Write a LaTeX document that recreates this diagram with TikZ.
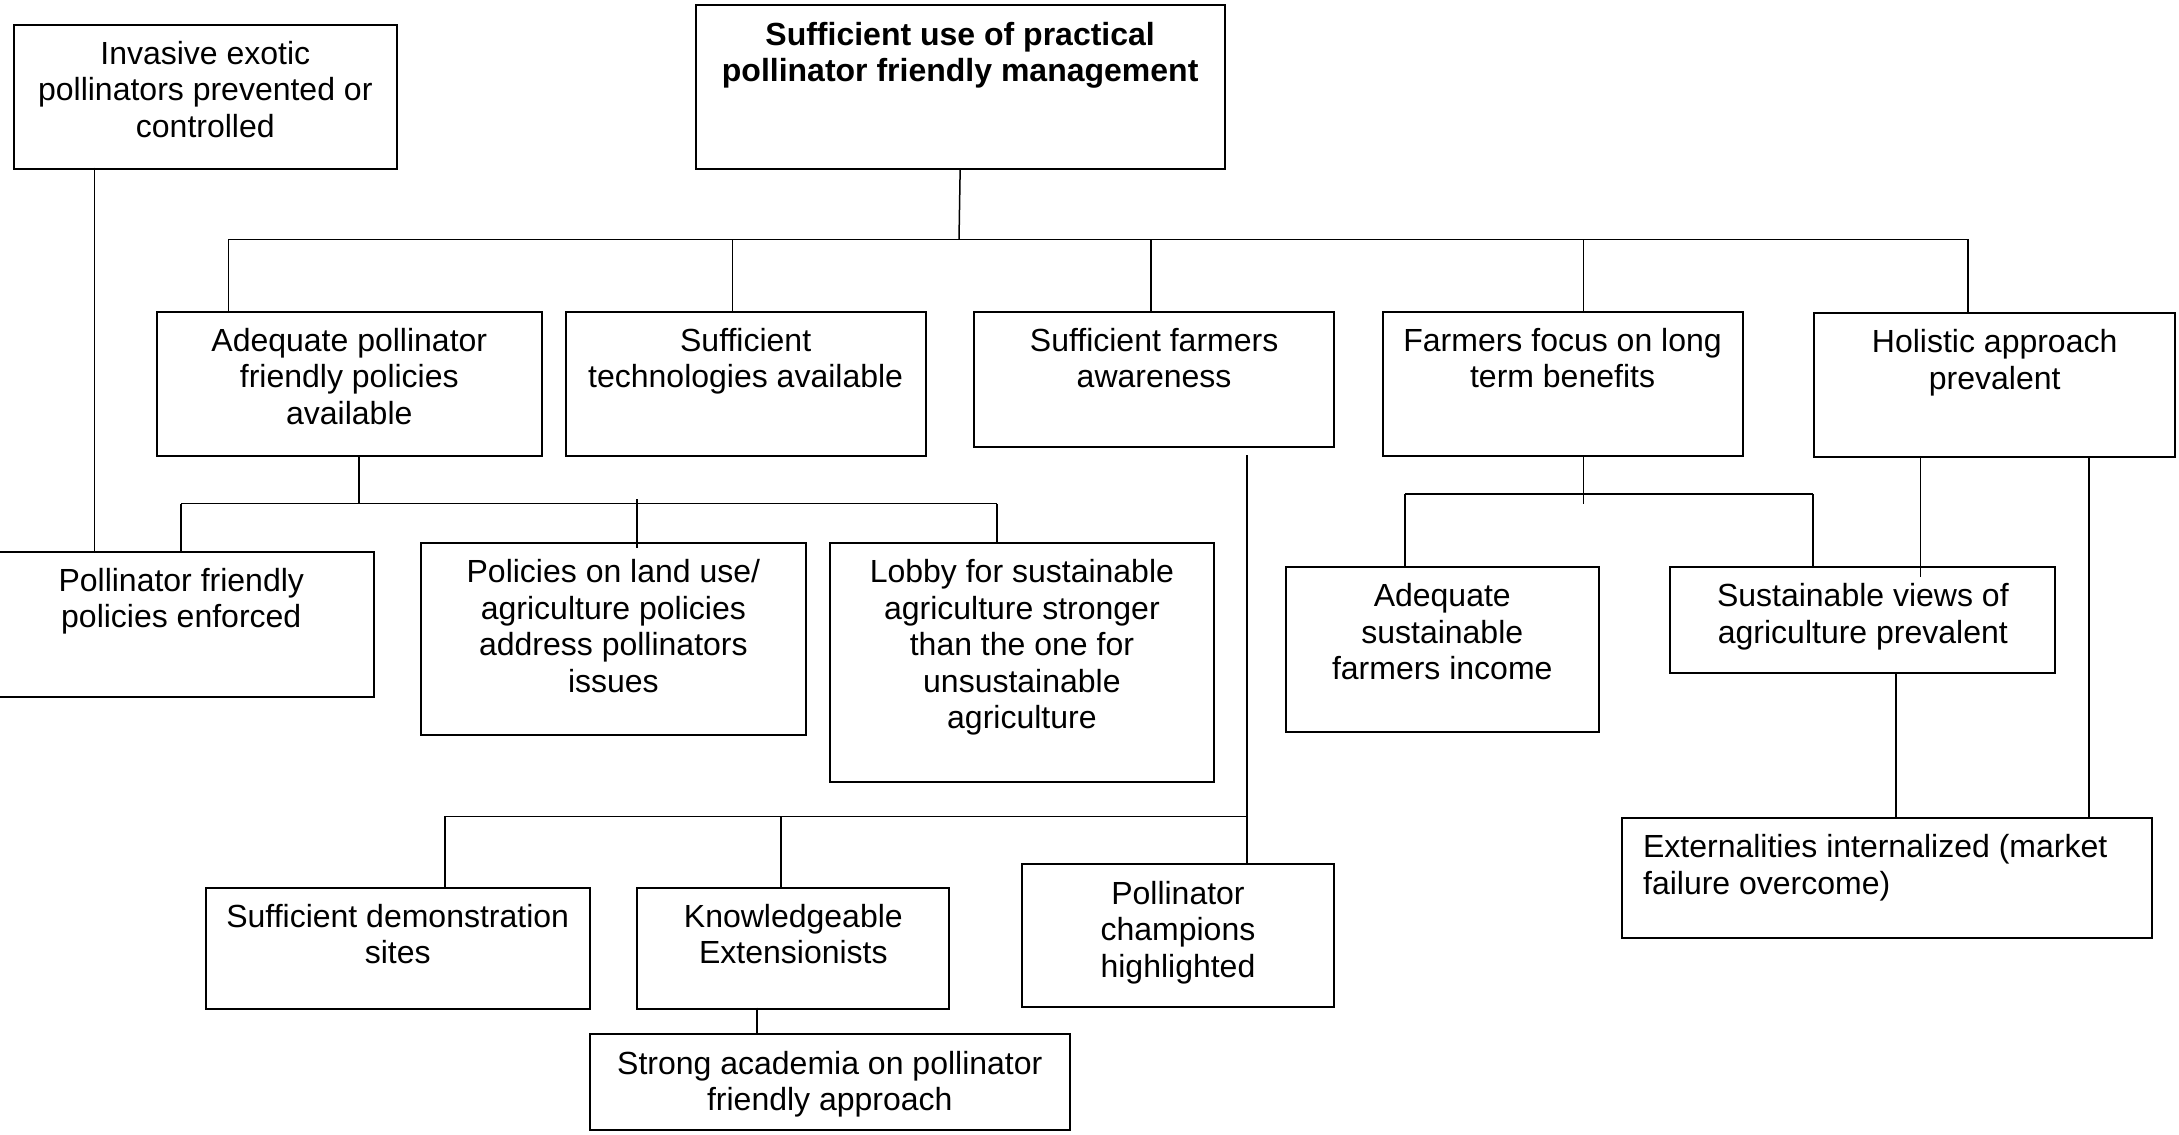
\documentclass[tikz,border=0pt]{standalone}
\usepackage{fontspec}
\setmainfont{Liberation Sans}
\tikzset{
  boxst/.style={draw, line width=2pt, inner sep=0pt, anchor=north west},
  txt/.style={anchor=north, align=center, inner sep=0pt, font=\fontsize{32}{36.5}\selectfont},
  con/.style={line width=1.5pt},
}
% name, x1, y1, x2, y2, text
\newcommand\mybox[6]{%
  \node[boxst, minimum width={(#4-(#2))*1pt}, minimum height={(#5-(#3))*1pt}] (#1) at (#2,#3) {};
  \node[txt] (#1t) at ([yshift=-15pt]#1.north) {\strut #6};
}
\begin{document}
\begin{tikzpicture}[x=1pt,y=-1pt]
\useasboundingbox[fill=white] (0,0) rectangle (2179,1135);

\mybox{inv}{12.6}{23.6}{396}{167.5}{Invasive exotic\\pollinators prevented or\\controlled}
\mybox{top}{694.5}{4.3}{1223.8}{167.9}{\bfseries Sufficient use of practical\\\bfseries pollinator friendly management}
\mybox{adq}{155.7}{310.7}{540.9}{455.4}{Adequate pollinator\\friendly policies\\available}
\mybox{tech}{564.7}{310.7}{924.6}{455.4}{Sufficient\\technologies available}
\mybox{awa}{973}{310.7}{1333.2}{446.4}{Sufficient farmers\\awareness}
\mybox{foc}{1381.6}{310.7}{1741.5}{455.4}{Farmers focus on long\\term benefits}
\mybox{hol}{1813}{311.8}{2174.4}{456.4}{Holistic approach\\prevalent}
\mybox{enf}{-12}{550.6}{372.5}{695.6}{Pollinator friendly\\policies enforced}
\mybox{pol}{420.2}{541.9}{804.6}{733.9}{Policies on land use/\\agriculture policies\\address pollinators\\issues}
\mybox{lob}{828.5}{541.9}{1213.3}{781.4}{Lobby for sustainable\\agriculture stronger\\than the one for\\unsustainable\\agriculture}
\mybox{inc}{1284.8}{565.8}{1597.7}{730.5}{Adequate\\sustainable\\farmers income}
\mybox{sus}{1669.3}{565.8}{2054.4}{672.1}{Sustainable views of\\agriculture prevalent}
\node[boxst, minimum width=529.6pt, minimum height=120.3pt] (ext) at (1620.9,817) {};
\node[txt, anchor=north west, align=left] (extt) at ([xshift=22pt,yshift=-15pt]ext.north west) {\strut Externalities internalized (market\\failure overcome)};
\mybox{dem}{204.8}{886.5}{588.6}{1007.5}{Sufficient demonstration\\sites}
\mybox{kno}{636.3}{886.5}{948.4}{1007.5}{Knowledgeable\\Extensionists}
\mybox{cha}{1020.7}{863.3}{1333.2}{1006}{Pollinator\\champions\\highlighted}
\mybox{aca}{588.6}{1033.4}{1069}{1129.4}{Strong academia on pollinator\\friendly approach}

% junction coordinates
\coordinate (j0) at (959,239.3);
\coordinate (j1) at (228.7,239.3);
\coordinate (j2) at (732.4,239.3);
\coordinate (j3) at (1150.9,239.3);
\coordinate (j4) at (1583.7,239.3);
\coordinate (j5) at (1968,239.3);
\coordinate (k0) at (359.2,503.6);
\coordinate (k1) at (181,503.6);
\coordinate (k2) at (637,499.3);
\coordinate (k2e) at (637,548.2);
\coordinate (k3) at (996.8,503.6);
\coordinate (i0) at (94.7,167.5);
\coordinate (a0) at (1247,455.4);
\coordinate (a1) at (1247,816.3);
\coordinate (m1) at (444.8,816.3);
\coordinate (m2) at (780.8,816.3);
\coordinate (f0) at (1583.7,504.3);
\coordinate (f1) at (1404.8,493.9);
\coordinate (f2) at (1813,493.9);
\coordinate (h1) at (1920.4,456.4);
\coordinate (h1e) at (1920.4,576.8);
\coordinate (h2) at (2088.8,456.4);
\coordinate (s0) at (1895.9,672.1);

\draw[con] (top.south) -- (j0);
\draw[con] (j1) -- (j5);
\draw[con] (j1) -- (j1 |- adq.north);
\draw[con] (j2) -- (j2 |- tech.north);
\draw[con] (j3) -- (j3 |- awa.north);
\draw[con] (j4) -- (j4 |- foc.north);
\draw[con] (j5) -- (j5 |- hol.north);

\draw[con] (k0 |- adq.south) -- (k0);
\draw[con] (k1) -- (k3);
\draw[con] (k1) -- (k1 |- enf.north);
\draw[con] (k2) -- (k2e);
\draw[con] (k3) -- (k3 |- lob.north);
\draw[con] (i0) -- (i0 |- enf.north);

\draw[con] (a0) -- (a0 |- cha.north);
\draw[con] (m1) -- (a1);
\draw[con] (m1) -- (m1 |- dem.north);
\draw[con] (m2) -- (m2 |- kno.north);
\draw[con] (757,1007.5) coordinate (n0) -- (n0 |- aca.north);

\draw[con] (f0 |- foc.south) -- (f0);
\draw[con] (f1) -- (f2);
\draw[con] (f1) -- (f1 |- inc.north);
\draw[con] (f2) -- (f2 |- sus.north);

\draw[con] (h1) -- (h1e);
\draw[con] (h2) -- (h2 |- ext.north);
\draw[con] (s0) -- (s0 |- ext.north);
\end{tikzpicture}
\end{document}
